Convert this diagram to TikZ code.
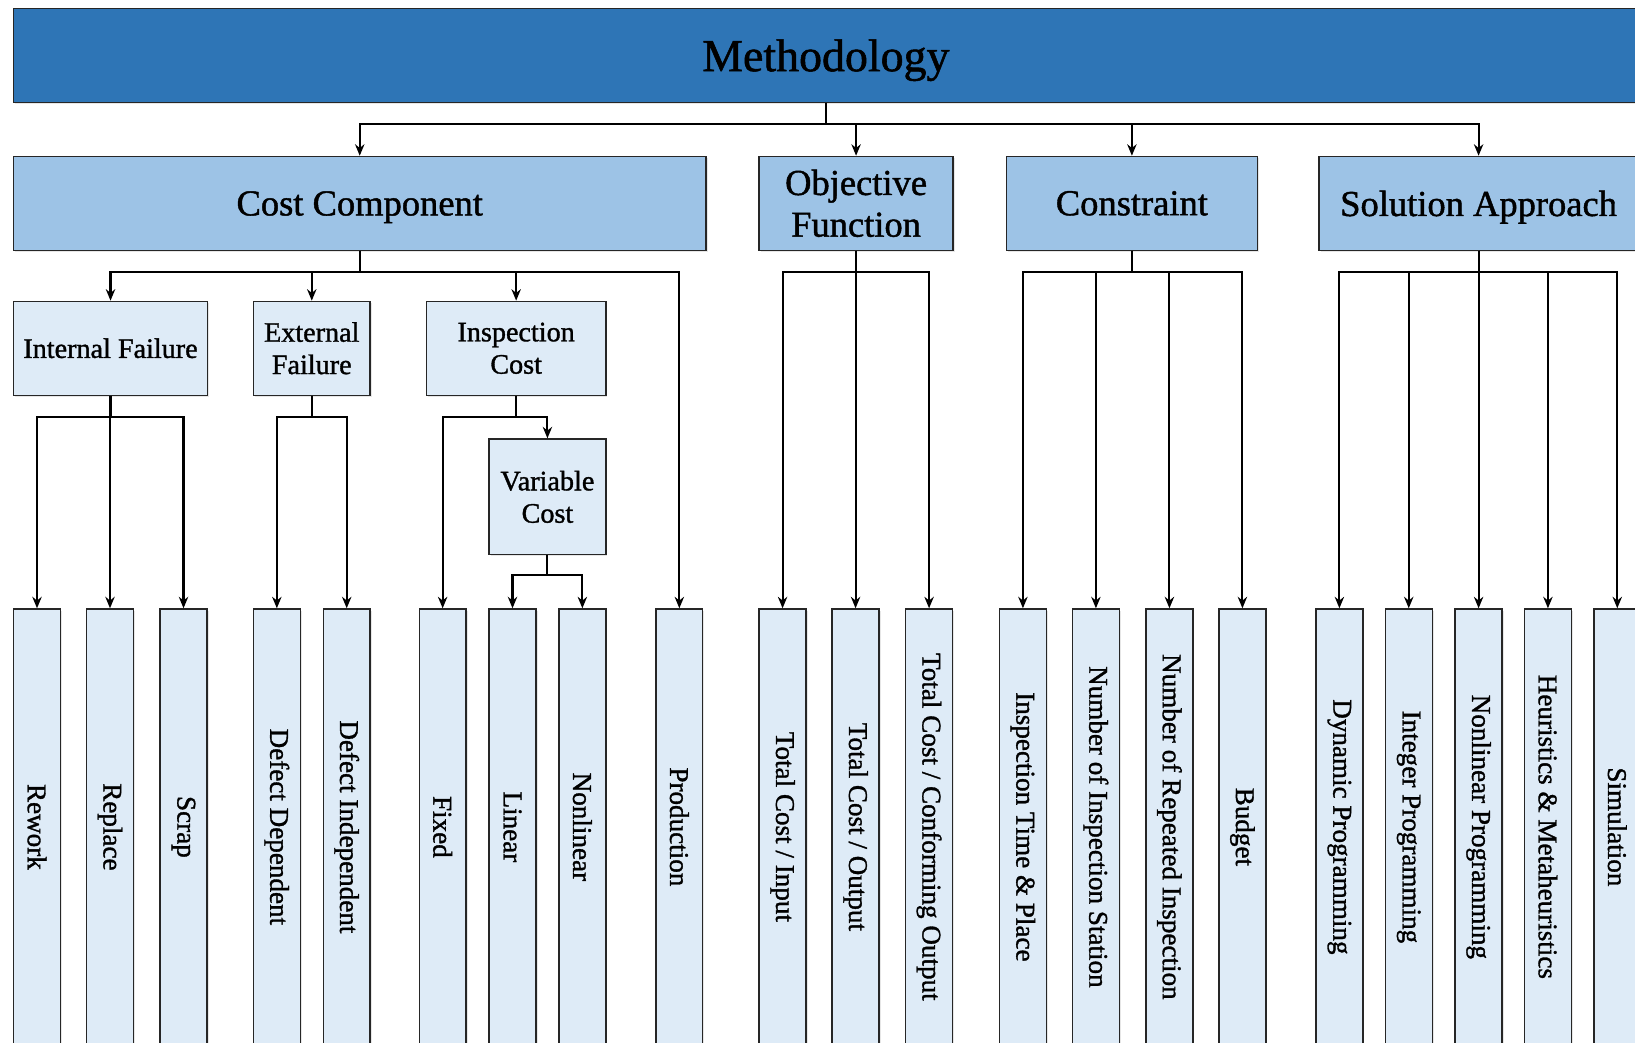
\documentclass[tikz,border=0pt]{standalone}
\usepackage{fontspec}
\setmainfont{Liberation Serif}[RawFeature={embolden=1.2}]
\usetikzlibrary{arrows.meta,shadows}

\definecolor{methblue}{RGB}{46,117,182}
\definecolor{midblue}{RGB}{157,195,230}
\definecolor{paleblue}{RGB}{222,235,247}

\begin{document}
\begin{tikzpicture}[
    x=1pt, y=-1pt,
    box/.style={rectangle, draw=black!85, line width=1.3pt, align=center, inner sep=0pt, drop shadow={shadow xshift=1.5pt, shadow yshift=-1.5pt, opacity=0.2}},
    top/.style={box, fill=methblue, minimum width=1558pt, minimum height=90pt, text depth=0pt, font=\fontsize{44}{52}\selectfont},
    main/.style={box, fill=midblue, minimum height=90pt, font=\fontsize{35}{40}\selectfont},
    sub/.style={box, fill=paleblue, minimum height=90pt, font=\fontsize{27}{31}\selectfont},
    leaf/.style={box, fill=paleblue, minimum width=45pt, minimum height=418pt, font=\fontsize{26}{30}\selectfont},
    arrow/.style={line width=2pt, ->, >={Stealth[length=11pt,width=9pt]}}
]
    \useasboundingbox (0,0) rectangle (1568,1000);
    \clip (0,0) rectangle (1568,1000);

    % Top level
    \node [top] (meth) at (792,53) {Methodology};

    % Main groups
    \node [main, minimum width=664pt, text depth=0pt] (cost) at (345,195) {Cost Component};
    \node [main, minimum width=186pt] (obj) at (821,195) {Objective\\Function};
    \node [main, minimum width=241pt] (cons) at (1085.5,195) {Constraint};
    \node [main, minimum width=306pt, text depth=0pt] (sol) at (1418,195) {Solution Approach};

    % Cost parts
    \node [sub, minimum width=186pt] (intf) at (106,334) {Internal Failure};
    \node [sub, minimum width=112pt] (extf) at (299,334) {External\\Failure};
    \node [sub, minimum width=172pt] (insp) at (495,334) {Inspection\\Cost};
    \node [sub, minimum width=112pt, minimum height=111pt] (varc) at (525,476.5) {Variable\\Cost};

    % Cost leaves
    \node [leaf] (rework) at (35.5,793) {\rotatebox{-90}{Rework}};
    \node [leaf] (replace) at (105.5,793) {\rotatebox{-90}{Replace}};
    \node [leaf] (scrap) at (176,793) {\rotatebox{-90}{Scrap}};
    \node [leaf] (defdep) at (265.5,793) {\rotatebox{-90}{Defect Dependent}};
    \node [leaf] (defind) at (332.5,793) {\rotatebox{-90}{Defect Independent}};
    \node [leaf] (fixed) at (424.5,793) {\rotatebox{-90}{Fixed}};
    \node [leaf] (linear) at (491.5,793) {\rotatebox{-90}{Linear}};
    \node [leaf] (nonlin) at (558.5,793) {\rotatebox{-90}{Nonlinear}};
    \node [leaf] (prod) at (651.5,793) {\rotatebox{-90}{Production}};

    % Objective leaves
    \node [leaf] (tcin) at (750.5,793) {\rotatebox{-90}{Total Cost / Input}};
    \node [leaf] (tcout) at (820.5,793) {\rotatebox{-90}{Total Cost / Output}};
    \node [leaf] (tcconf) at (891,793) {\rotatebox{-90}{Total Cost / Conforming Output}};

    % Constraint leaves
    \node [leaf] (itp) at (981,793) {\rotatebox{-90}{Inspection Time \& Place}};
    \node [leaf] (nis) at (1051,793) {\rotatebox{-90}{Number of Inspection Station}};
    \node [leaf] (nri) at (1121.5,793) {\rotatebox{-90}{Number of Repeated Inspection}};
    \node [leaf] (budget) at (1191.5,793) {\rotatebox{-90}{Budget}};

    % Solution leaves
    \node [leaf] (dynp) at (1284.5,793) {\rotatebox{-90}{Dynamic Programming}};
    \node [leaf] (intp) at (1351,793) {\rotatebox{-90}{Integer Programming}};
    \node [leaf] (nlp) at (1418,793) {\rotatebox{-90}{Nonlinear Programming}};
    \node [leaf] (heur) at (1484.5,793) {\rotatebox{-90}{Heuristics \& Metaheuristics}};
    \node [leaf] (simu) at (1551,793) {\rotatebox{-90}{Simulation}};

    % Arrows
    \draw [arrow] (meth.south) -- ++(0,20) -| (cost.north);
    \draw [arrow] (meth.south) -- ++(0,20) -| (obj.north);
    \draw [arrow] (meth.south) -- ++(0,20) -| (cons.north);
    \draw [arrow] (meth.south) -- ++(0,20) -| (sol.north);

    \draw [arrow] (cost.south) -- ++(0,20) -| (intf.north);
    \draw [arrow] (cost.south) -- ++(0,20) -| (extf.north);
    \draw [arrow] (cost.south) -- ++(0,20) -| (insp.north);
    \draw [arrow] (cost.south) -- ++(0,20) -| (prod.north);

    \draw [arrow] (intf.south) -- ++(0,20) -| (rework.north);
    \draw [arrow] (intf.south) -- ++(0,20) -| (replace.north);
    \draw [arrow] (intf.south) -- ++(0,20) -| (scrap.north);
    \draw [arrow] (extf.south) -- ++(0,20) -| (defdep.north);
    \draw [arrow] (extf.south) -- ++(0,20) -| (defind.north);
    \draw [arrow] (insp.south) -- ++(0,20) -| (fixed.north);
    \draw [arrow] (insp.south) -- ++(0,20) -| (varc.north);
    \draw [arrow] (varc.south) -- ++(0,19) -| (linear.north);
    \draw [arrow] (varc.south) -- ++(0,19) -| (nonlin.north);

    \draw [arrow] (obj.south) -- ++(0,20) -| (tcin.north);
    \draw [arrow] (obj.south) -- ++(0,20) -| (tcout.north);
    \draw [arrow] (obj.south) -- ++(0,20) -| (tcconf.north);

    \draw [arrow] (cons.south) -- ++(0,20) -| (itp.north);
    \draw [arrow] (cons.south) -- ++(0,20) -| (nis.north);
    \draw [arrow] (cons.south) -- ++(0,20) -| (nri.north);
    \draw [arrow] (cons.south) -- ++(0,20) -| (budget.north);

    \draw [arrow] (sol.south) -- ++(0,20) -| (dynp.north);
    \draw [arrow] (sol.south) -- ++(0,20) -| (intp.north);
    \draw [arrow] (sol.south) -- ++(0,20) -| (nlp.north);
    \draw [arrow] (sol.south) -- ++(0,20) -| (heur.north);
    \draw [arrow] (sol.south) -- ++(0,20) -| (simu.north);
\end{tikzpicture}
\end{document}
